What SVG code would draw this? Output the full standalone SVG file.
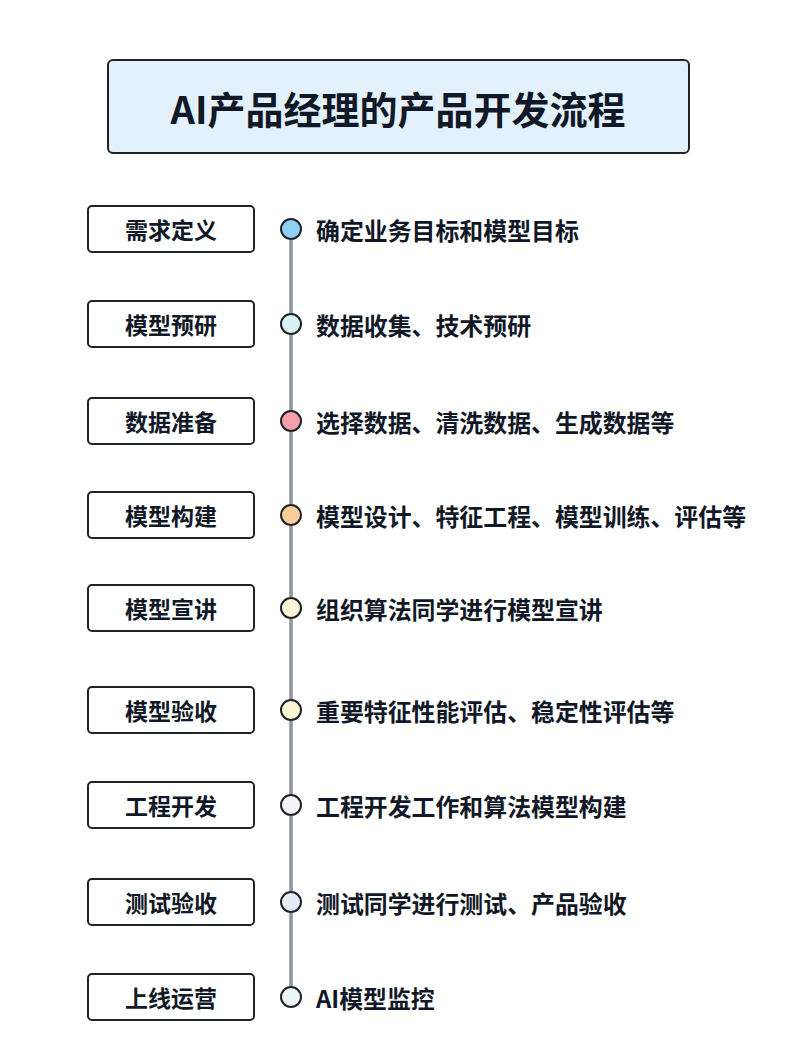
<svg xmlns="http://www.w3.org/2000/svg" width="800" height="1047" viewBox="0 0 800 1047">
<style>
text{font-family:"Noto Sans CJK SC","Noto Sans",sans-serif;font-weight:700;fill:#111827}
.box{fill:#fff;stroke:#1f2328;stroke-width:2}
.lbl{font-size:23px;text-anchor:middle;dominant-baseline:central}
.desc{font-size:23.9px;dominant-baseline:central}
.dot{stroke:#1f2328;stroke-width:2}
.conn{stroke:#8c939b;stroke-width:3.5}
</style>
<rect width="800" height="1047" fill="#fff"/>
<g id="title">
<rect x="108" y="60" width="581" height="93" rx="5" fill="#e3f1fd" stroke="#1f2328" stroke-width="2"/>
<text x="398" y="107" font-size="38" text-anchor="middle" dominant-baseline="central" fill="#0f1a2a">AI产品经理的产品开发流程</text>
</g>
<g id="connectors">
<line class="conn" x1="291" y1="240" x2="291" y2="313"/>
<line class="conn" x1="291" y1="335" x2="291" y2="410"/>
<line class="conn" x1="291" y1="432" x2="291" y2="504"/>
<line class="conn" x1="291" y1="526" x2="291" y2="597"/>
<line class="conn" x1="291" y1="619" x2="291" y2="699"/>
<line class="conn" x1="291" y1="721" x2="291" y2="794"/>
<line class="conn" x1="291" y1="816" x2="291" y2="891"/>
<line class="conn" x1="291" y1="913" x2="291" y2="986"/>
</g>
<g id="step1"><rect class="box" x="88" y="206" width="166" height="46" rx="4"/><text class="lbl" x="171" y="229">需求定义</text><circle class="dot" cx="291" cy="229" r="10" fill="#8fd0f5"/><text class="desc" x="316" y="229">确定业务目标和模型目标</text></g>
<g id="step2"><rect class="box" x="88" y="301" width="166" height="46" rx="4"/><text class="lbl" x="171" y="324">模型预研</text><circle class="dot" cx="291" cy="324" r="10" fill="#d9f2f8"/><text class="desc" x="316" y="324">数据收集、技术预研</text></g>
<g id="step3"><rect class="box" x="88" y="398" width="166" height="46" rx="4"/><text class="lbl" x="171" y="421">数据准备</text><circle class="dot" cx="291" cy="421" r="10" fill="#f4a0ac"/><text class="desc" x="316" y="421">选择数据、清洗数据、生成数据等</text></g>
<g id="step4"><rect class="box" x="88" y="492" width="166" height="46" rx="4"/><text class="lbl" x="171" y="515">模型构建</text><circle class="dot" cx="291" cy="515" r="10" fill="#f8cf9a"/><text class="desc" x="316" y="515">模型设计、特征工程、模型训练、评估等</text></g>
<g id="step5"><rect class="box" x="88" y="585" width="166" height="46" rx="4"/><text class="lbl" x="171" y="608">模型宣讲</text><circle class="dot" cx="291" cy="608" r="10" fill="#fdf5d8"/><text class="desc" x="316" y="608">组织算法同学进行模型宣讲</text></g>
<g id="step6"><rect class="box" x="88" y="687" width="166" height="46" rx="4"/><text class="lbl" x="171" y="710">模型验收</text><circle class="dot" cx="291" cy="710" r="10" fill="#fbf5d2"/><text class="desc" x="316" y="710">重要特征性能评估、稳定性评估等</text></g>
<g id="step7"><rect class="box" x="88" y="782" width="166" height="46" rx="4"/><text class="lbl" x="171" y="805">工程开发</text><circle class="dot" cx="291" cy="805" r="10" fill="#f4f4fa"/><text class="desc" x="316" y="805">工程开发工作和算法模型构建</text></g>
<g id="step8"><rect class="box" x="88" y="879" width="166" height="46" rx="4"/><text class="lbl" x="171" y="902">测试验收</text><circle class="dot" cx="291" cy="902" r="10" fill="#e3eef9"/><text class="desc" x="316" y="902">测试同学进行测试、产品验收</text></g>
<g id="step9"><rect class="box" x="88" y="974" width="166" height="46" rx="4"/><text class="lbl" x="171" y="997">上线运营</text><circle class="dot" cx="291" cy="997" r="10" fill="#e8f6f4"/><text class="desc" x="316" y="997">AI模型监控</text></g>
</svg>
